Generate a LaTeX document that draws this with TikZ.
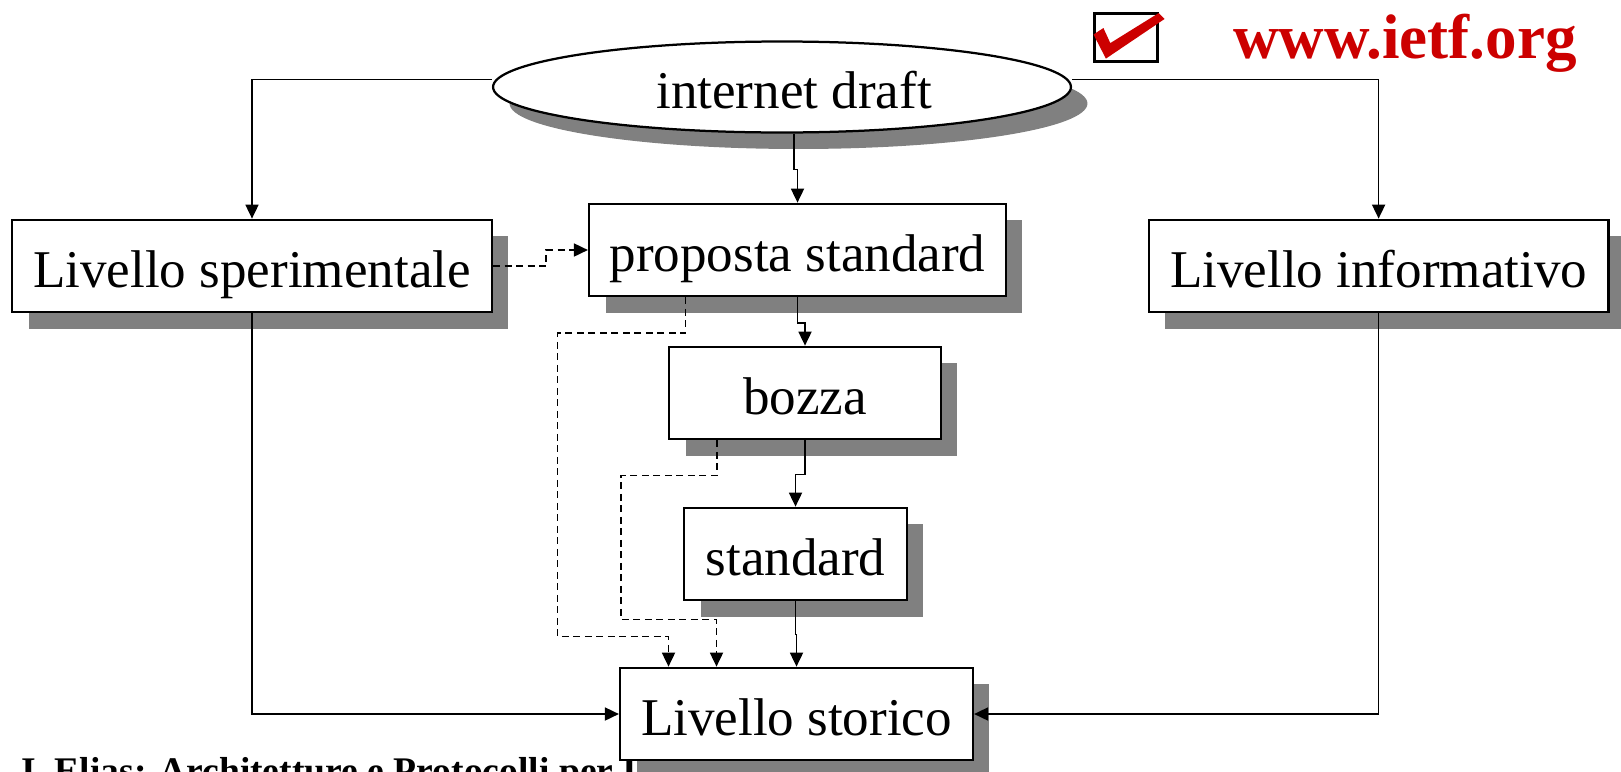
\documentclass[tikz,border=0pt]{standalone}
\usepackage{fontspec}
\setmainfont{Liberation Serif}
\usetikzlibrary{calc, shapes.geometric, shadows, arrows.meta}

\definecolor{ietfred}{HTML}{CC0000}
\tikzset{
  level/.style={draw, line width=0.045cm, fill=white, minimum height=1.85cm, inner sep=0pt,
    font=\fontsize{30.2}{36}\selectfont, text height=30pt, text depth=6pt,
    drop shadow={shadow xshift=0.33cm, shadow yshift=-0.33cm, fill=black!50, opacity=1}},
  conn/.style={line width=0.035cm, -{Triangle[length=0.28cm,width=0.26cm]}},
  dconn/.style={conn, dash pattern=on 0.14cm off 0.09cm},
}

\begin{document}
\begin{tikzpicture}[x=0.02cm, y=0.02cm]
\useasboundingbox (0,0) rectangle (1621,-771);
\clip (0,0) rectangle (1621,-771);
% footer, half hidden under the last box
\node[anchor=base west, inner sep=0pt, font=\fontsize{21.4}{26}\selectfont\bfseries] (foot) at (21,-783) {I. Elias: Architetture e Protocolli per I};
\node[level, ellipse, minimum width=11.56cm, minimum height=1.82cm] (draft) at (782,-87) {\hspace*{0.48cm}internet draft};
\node[level, minimum width=9.6cm] (sper) at (252,-266) {Livello sperimentale};
\node[level, minimum width=8.34cm] (prop) at (797.5,-250) {proposta standard};
\node[level, minimum width=9.2cm] (info) at (1378.6,-266) {Livello informativo};
\node[level, minimum width=5.44cm] (bozza) at (805,-393) {bozza};
\node[level, minimum width=4.46cm] (std) at (795.5,-554) {standard};
\node[level, minimum width=7.06cm] (storico) at (796.5,-714) {Livello storico};
% solid arrows
\draw[conn] ([yshift=0.15cm]draft.west) -| (sper.north);
\draw[conn] ([yshift=0.15cm]draft.east) -| (info.north);
\draw[conn] ([xshift=0.24cm]draft.south) -- ++(0,-36) -| (prop.north);
\draw[conn] (prop.south) -- ++(0,-26) -| (bozza.north);
\draw[conn] (bozza.south) -- ++(0,-34) -| (std.north);
\draw[conn] (std.south) -- ++(0,-33) -| (storico.north);
\draw[conn] (sper.south) |- (storico.west);
\draw[conn] (info.south) |- (storico.east);
% dashed arrows
\draw[dconn] (sper.east) -- ++(53,0) |- (prop.west);
\draw[dconn] ($(prop.south)+(-112,0)$) -- ++(0,-36) -| ++(-128,-303) -| ($(storico.north)+(-128,0)$);
\draw[dconn] ($(bozza.south)+(-88,0)$) -- ++(0,-35) -| ++(-96,-144) -| ($(storico.north)+(-80,0)$);
% check box and site
\draw[line width=0.06cm] (1094,-13) rectangle (1157,-61);
\fill[ietfred] (1093.5,-34.5) -- (1103.4,-28) -- (1110.3,-43.1) -- (1158.6,-13.1) -- (1164.5,-19) -- (1105.9,-58.6) -- cycle;
\node[anchor=base west, inner sep=0pt, text=ietfred, font=\fontsize{35.9}{43}\selectfont\bfseries] (url) at (1233,-58) {www.ietf.org};
\end{tikzpicture}
\end{document}
